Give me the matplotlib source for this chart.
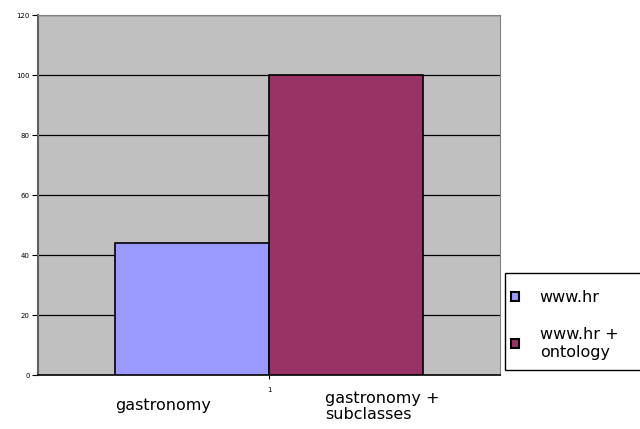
import matplotlib.pyplot as plt
import numpy as np
from matplotlib.patches import Patch, Rectangle

series = ['www.hr', 'www.hr +\nontology']
values = [44, 100]
colors = ['#9999FF', '#993366']
cat_labels = ['gastronomy', 'gastronomy +\nsubclasses']
yticks = [0, 20, 40, 60, 80, 100, 120]

fig = plt.figure(figsize=(6.4, 4.29), dpi=100)
ax = fig.add_axes([38/640, 1-375/429, (500-38)/640, (375-15)/429])
ax.set_facecolor('#C0C0C0')

w = 1/3
xs = np.array([-w/2, w/2])
ax.bar(xs, values, width=w, color=colors, edgecolor='black', linewidth=1.2, zorder=3)

ax.set_xlim(-0.5, 0.5)
ax.set_ylim(0, 120)
ax.set_yticks(yticks)
ax.set_yticklabels([str(t) for t in yticks], fontsize=5)
ax.set_xticks([0])
ax.set_xticklabels(['1'], fontsize=5)
ax.tick_params(axis='y', direction='out', length=4, width=0.8, pad=2)
ax.tick_params(axis='x', direction='out', length=3, width=0.8, pad=6)
for t in yticks[1:]:
    ax.axhline(t, color='black', linewidth=0.9, zorder=1)
for s in ['top', 'right']:
    ax.spines[s].set_color('#808080')
    ax.spines[s].set_linewidth(0.8)
ax.spines['left'].set_color('#606060')
ax.spines['left'].set_linewidth(1.5)
ax.spines['bottom'].set_color('black')
ax.spines['bottom'].set_linewidth(1.2)

# category labels, left aligned like in the original
trans = ax.get_xaxis_transform()
ax.text(-w, -0.065, cat_labels[0], transform=trans, ha='left', va='top', fontsize=11.5)
ax.text(0.121, -0.045, cat_labels[1], transform=trans, ha='left', va='top',
        fontsize=11.5, linespacing=1.05)

# legend box runs off the right edge of the picture
fig.patches.append(Rectangle((505/640, 1-370/429), 0.3, 97/429, transform=fig.transFigure,
                             facecolor='white', edgecolor='black', linewidth=1.0))
handles = [Patch(facecolor=c, edgecolor='black', linewidth=1.5) for c in colors]
leg = fig.legend(handles, series, loc='upper left', bbox_to_anchor=(511/640, 1-290/429),
                 fontsize=11.5, frameon=False, handlelength=0.5, handleheight=0.5,
                 handletextpad=1.3, borderpad=0, labelspacing=1.35, borderaxespad=0)
for t in leg.get_texts():
    t.set_linespacing(1.25)

fig.savefig('out.png', dpi=100)
